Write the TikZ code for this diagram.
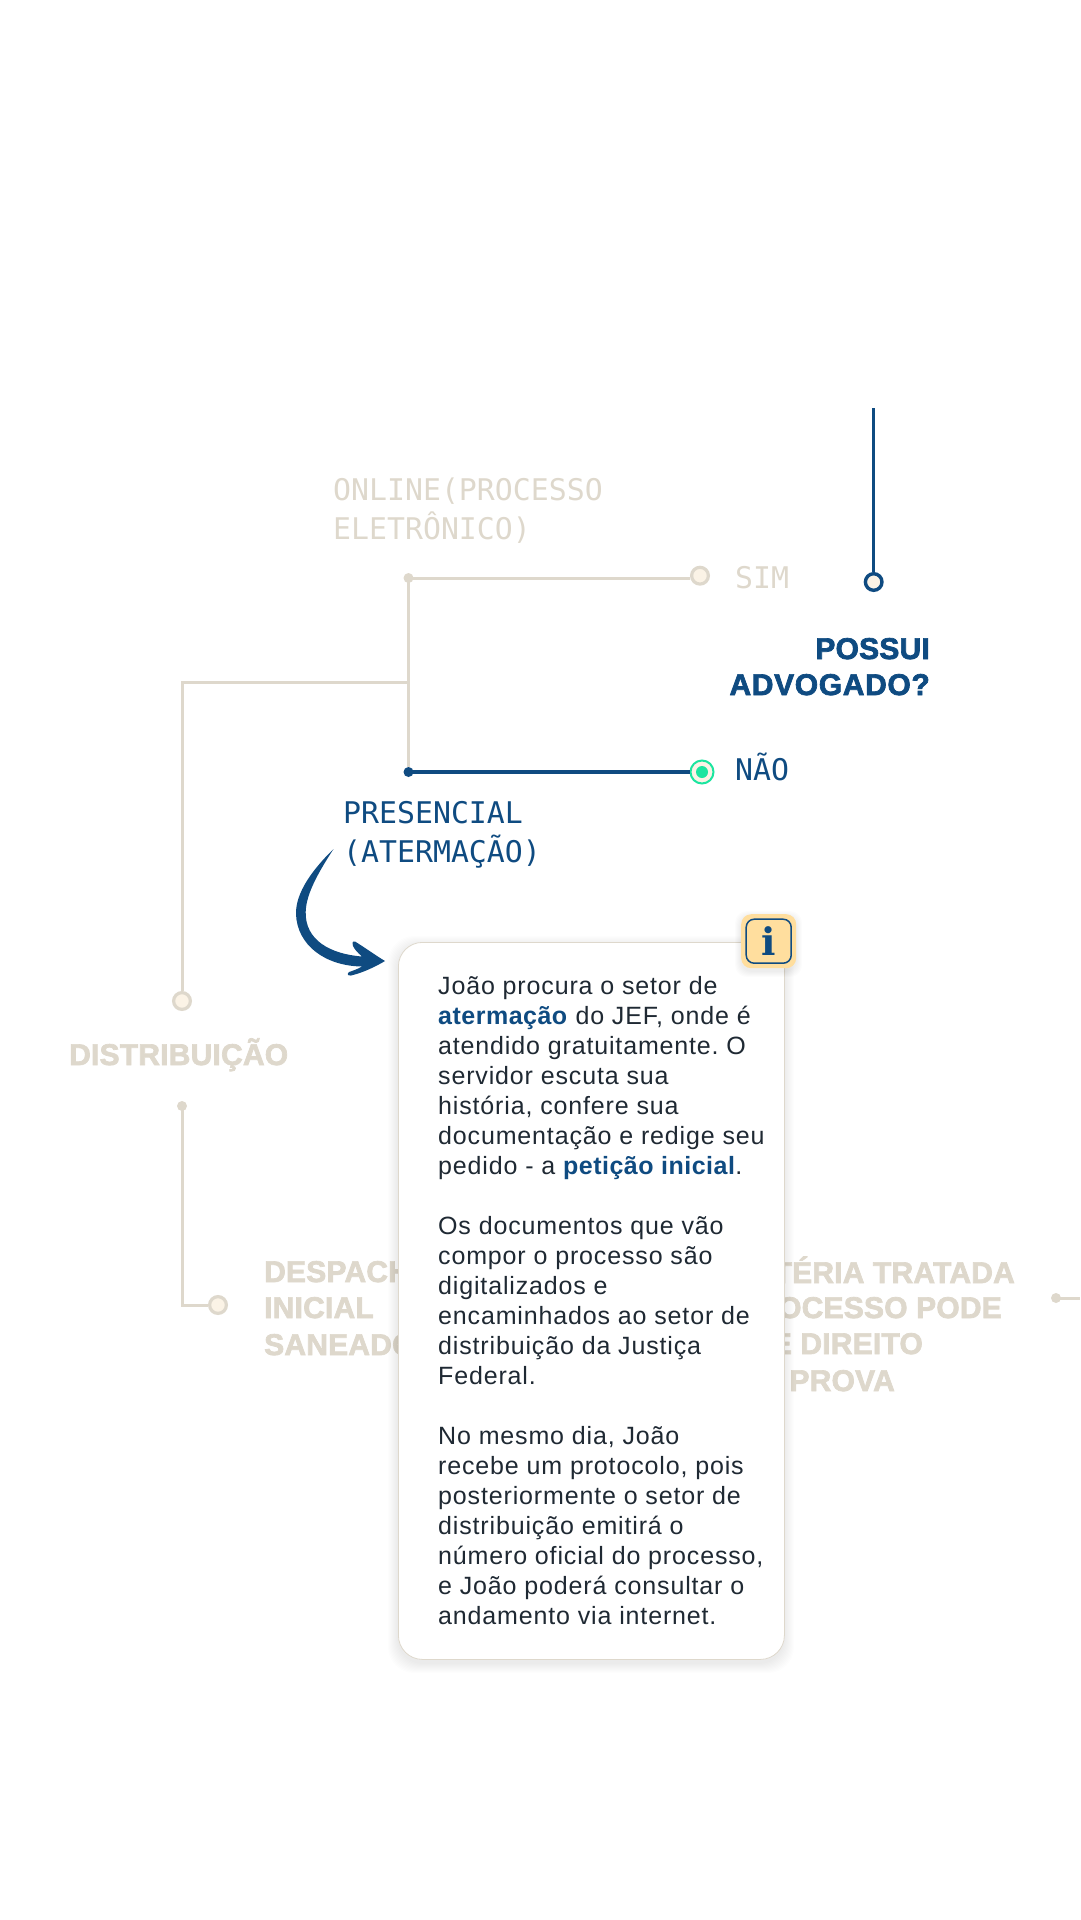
\documentclass[tikz,border=0pt]{standalone}
\usepackage{fontspec}
\setmainfont{Liberation Sans}
\newfontfamily\monofnt{DejaVu Sans Mono}
\newfontfamily\headfnt[FakeBold=2.4,LetterSpace=.7]{Liberation Sans Bold}
\newfontfamily\bodyfnt[LetterSpace=3.4,BoldFeatures={LetterSpace=2}]{Liberation Sans}
\usetikzlibrary{calc}
\definecolor{navy}{HTML}{0F4B81}
\definecolor{sand}{HTML}{DED8CC}
\definecolor{cream}{HTML}{FBF3E6}
\definecolor{mint}{HTML}{1CE5A0}
\definecolor{amber}{HTML}{FFDE9E}
\definecolor{ink}{HTML}{1F2933}

\begin{document}
\begin{tikzpicture}
      [x=1pt,y=-1pt
    % линии и точки
      ,wire/.style={draw=sand,line width=3pt}
      ,wireon/.style={draw=navy,line width=3.4pt}
      ,dotoff/.style={circle,fill=sand,inner sep=0,minimum size=10pt}
      ,doton/.style={circle,fill=navy,inner sep=0,minimum size=10pt}
      ,ringoff/.style={circle,draw=sand,fill=cream,line width=3.2pt,inner sep=0,minimum size=16.8pt}
      ,ringon/.style={circle,draw=navy,fill=cream,line width=3.4pt,inner sep=0,minimum size=16.6pt}
      ,ringpick/.style={circle,draw=mint,fill=cream,line width=2pt,inner sep=0,minimum size=23pt}
    % подписи
      ,mono/.style={inner sep=0,align=left,font=\monofnt\fontsize{29.85}{39}\selectfont}
      ,head/.style={inner sep=0,font=\headfnt\fontsize{30}{36}\selectfont}
      ]
        \useasboundingbox (0,0) rectangle (1080,1920);
    % линии слева
        \node[dotoff] (jsim) at (408.5,578) {};
        \node[doton] (jnao) at (408.5,772) {};
        \node[ringoff] (rsim) at (700,575.7) {};
        \node[ringpick] (rnao) at (702,772) {};
        \node[circle,fill=mint,inner sep=0,minimum size=12pt] (rnaoin) at (rnao) {};
        \node[ringoff] (rdist) at (182,1001) {};
        \node[dotoff] (jdist) at (182,1106) {};
        \node[ringoff] (rdesp) at (218,1305) {};
        \node[dotoff] (jmat) at (1056,1298) {};
        \coordinate (mid) at (408.5,682);
        \coordinate (wend) at (1080,1298);
        \coordinate (ltop) at (873.7,408);
        \node[ringon] (rtop) at (873.7,582) {};

        \draw[wire] (jsim.center) -- (jnao);
        \draw[wire] (jsim.center) -- (jsim.center -| rsim.west);
        \draw[wire] (mid) -| (rdist);
        \draw[wire] (jdist.center) |- (rdesp);
        \draw[wire] (jmat.center) -- (wend);
        \draw[wireon] (jnao.center) -- (rnao);
        \draw[wireon] (ltop) -- (rtop);

    % подписи
        \node[mono,text=sand,anchor=north west] (online) at (333,478)
            {ONLINE(PROCESSO\\ELETRÔNICO)};
        \node[mono,text=sand,anchor=base west] (sim) at (735,588) {SIM};
        \node[mono,text=navy,anchor=base west] (nao) at (735,780) {NÃO};
        \node[mono,text=navy,anchor=north west] (pres) at (343,801)
            {PRESENCIAL\\(ATERMAÇÃO)};
        \node[head,text=navy,anchor=base east] (possui) at (930,659) {POSSUI};
        \node[head,text=navy,anchor=base east] (advog) at (930,695) {\addfontfeature{LetterSpace=2.2}ADVOGADO?};
        \node[head,text=sand,anchor=base west] (dist) at (69,1065) {DISTRIBUIÇÃO};
        \node[head,text=sand,anchor=base west] (desp1) at (264,1282) {DESPACHO};
        \node[head,text=sand,anchor=base west] (desp2) at (264,1318) {INICIAL};
        \node[head,text=sand,anchor=base west] (desp3) at (264,1355) {SANEADOR};
        \node[head,text=sand,anchor=base east] (mat1) at (1015,1283) {MATÉRIA TRATADA};
        \node[head,text=sand,anchor=base east] (mat2) at (1002,1318) {PROCESSO PODE};
        \node[head,text=sand,anchor=base east] (mat3) at (923,1354) {DE DIREITO};
        \node[head,text=sand,anchor=base east] (mat4) at (895,1391) {PROVA};

    % стрелка
        \fill[navy] (333.5,849) .. controls (312,870) and (295.5,893) .. (296,914)
            .. controls (297,945) and (325,966) .. (362,966.5)
            .. controls (358,969) and (352,971) .. (349,972)
            .. controls (347,974) and (347.5,976) .. (351,975.5)
            .. controls (362,973) and (375,967) .. (385,961)
            .. controls (375,955) and (364,947) .. (355,941.5)
            .. controls (352,940.5) and (352,944) .. (353,946)
            .. controls (355,950) and (358,953) .. (362,956.5)
            .. controls (330,954) and (305,940) .. (305.7,912)
            .. controls (306,893) and (320,870) .. (333.5,849) -- cycle;

    % карточка
        \foreach \k in {1,...,10}
            \fill[black,opacity=.009,rounded corners=26pt]
                (398-\k,942+4-\k) rectangle (784+\k,1659+4+\k);
        \node[draw=sand,fill=white,line width=.8pt,rounded corners=24pt,inner sep=0,
              minimum width=386pt,minimum height=717pt,anchor=north west] (card) at (398,942) {};
        \node[inner sep=0,anchor=north west,align=left,text=ink,
              font=\bodyfnt\fontsize{25}{30}\selectfont\frenchspacing] (cardtext) at (438,976)
            {João procura o setor de\\
             \textcolor{navy}{\textbf{atermação}} do JEF, onde é\\
             atendido gratuitamente. O\\
             servidor escuta sua\\
             história, confere sua\\
             documentação e redige seu\\
             pedido - a \textcolor{navy}{\textbf{petição inicial}}.\\[30pt]
             Os documentos que vão\\
             compor o processo são\\
             digitalizados e\\
             encaminhados ao setor de\\
             distribuição da Justiça\\
             Federal.\\[30pt]
             No mesmo dia, João\\
             recebe um protocolo, pois\\
             posteriormente o setor de\\
             distribuição emitirá o\\
             número oficial do processo,\\
             e João poderá consultar o\\
             andamento via internet.};

    % значок
        \foreach \k in {1,...,6}
            \fill[black,opacity=.012,rounded corners=12pt]
                (741-\k,914+3-\k) rectangle (796+\k,968+3+\k);
        \node[fill=amber,rounded corners=10pt,inner sep=0,minimum width=55pt,minimum height=54pt,
              anchor=north west] (badge) at (741,914) {};
        \node[draw=navy,line width=1.5pt,rounded corners=8pt,inner sep=0,minimum width=45pt,
              minimum height=44pt] (badgein) at (badge) {};
        \node[inner sep=0,text=navy,anchor=base,font=\fontspec{DejaVu Serif Bold}\fontsize{38}{38}\selectfont]
            (info) at (769,955) {i};
       \end{tikzpicture}
\end{document}
